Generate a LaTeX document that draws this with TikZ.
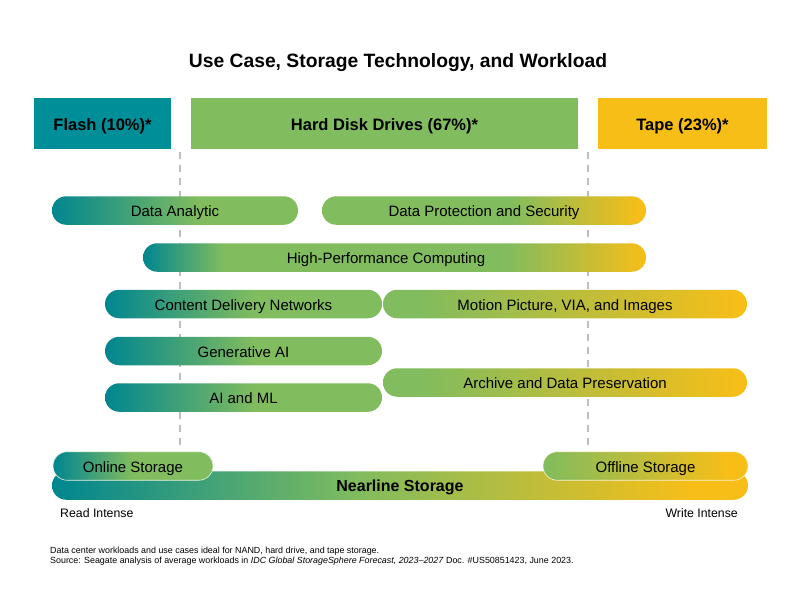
\documentclass[tikz,border=0pt]{standalone}
\usepackage{fontspec}
\setmainfont{Liberation Sans}
\definecolor{tl}{RGB}{0,134,144}
\definecolor{flashc}{RGB}{0,142,152}
\definecolor{gr}{RGB}{129,188,94}
\definecolor{yl}{RGB}{247,190,24}
\definecolor{dashc}{RGB}{190,190,190}
\pgfdeclarehorizontalshading{shDA}{100bp}{color(0bp)=(tl); color(25bp)=(tl); color(55bp)=(gr); color(100bp)=(gr)}
\pgfdeclarehorizontalshading{shLeft}{100bp}{color(0bp)=(tl); color(25bp)=(tl); color(52bp)=(gr); color(100bp)=(gr)}
\pgfdeclarehorizontalshading{shHPC}{100bp}{color(0bp)=(tl); color(25bp)=(tl); color(33bp)=(gr); color(61bp)=(gr); color(75bp)=(yl); color(100bp)=(yl)}
\pgfdeclarehorizontalshading{shDPS}{100bp}{color(0bp)=(gr); color(25bp)=(gr); color(54bp)=(gr); color(74bp)=(yl); color(100bp)=(yl)}
\pgfdeclarehorizontalshading{shRight}{100bp}{color(0bp)=(gr); color(25bp)=(gr); color(30bp)=(gr); color(74bp)=(yl); color(100bp)=(yl)}
\pgfdeclarehorizontalshading{shNear}{100bp}{color(0bp)=(tl); color(25bp)=(tl); color(47bp)=(gr); color(71bp)=(yl); color(100bp)=(yl)}
\pgfdeclarehorizontalshading{shOn}{100bp}{color(0bp)=(tl); color(25bp)=(tl); color(50bp)=(gr); color(100bp)=(gr)}
\pgfdeclarehorizontalshading{shOff}{100bp}{color(0bp)=(gr); color(25bp)=(gr); color(70bp)=(yl); color(100bp)=(yl)}
\tikzset{
  hdr/.style={rectangle, minimum height=51pt, inner sep=0pt, text=black,
    font=\bfseries\fontsize{16.5}{20}\selectfont, text height=13.4pt, text depth=0pt},
  pill/.style={rectangle, rounded corners=14.25pt, minimum height=28.5pt, inner sep=0pt,
    text=black, font=\fontsize{15}{18}\selectfont, text height=12pt, text depth=0pt},
  guide/.style={draw=dashc, line width=1.2pt, dash pattern=on 7pt off 6pt},
  small/.style={inner sep=0pt, anchor=base west, font=\fontsize{12.3}{14}\selectfont},
  foot/.style={inner sep=0pt, anchor=base west, font=\fontsize{8.9}{10}\selectfont}
}
\begin{document}
\begin{tikzpicture}[x=1pt, y=-1pt]
\useasboundingbox (0,0) rectangle (800,600);
\fill[white] (0,0) rectangle (800,600);
% title
\node[inner sep=0pt, anchor=base, font=\bfseries\fontsize{19.3}{22}\selectfont] (title) at (398,67.5) {Use Case, Storage Technology, and Workload};
% header boxes
\node[hdr, fill=flashc, minimum width=137pt] (flash) at (102.5,123.5) {Flash (10\%)*};
\node[hdr, fill=gr, minimum width=387pt] (hdd) at (384.5,123.5) {Hard Disk Drives (67\%)*};
\node[hdr, fill=yl, minimum width=169pt] (tape) at (682.5,123.5) {Tape (23\%)*};
% dashed guides
\coordinate (g1a) at (180,152); \coordinate (g1b) at (180,450);
\coordinate (g2a) at (588,152); \coordinate (g2b) at (588,450);
\draw[guide] (g1a) -- (g1b);
\draw[guide] (g2a) -- (g2b);
% pills
\node[pill, shading=shDA, minimum width=246pt] (da) at (175,210.5) {Data Analytic};
\node[pill, shading=shDPS, minimum width=324pt] (dps) at (484,210.5) {Data Protection and Security};
\node[pill, shading=shHPC, minimum width=503pt] (hpc) at (394.5,257.5) {\hspace*{-17pt}High-Performance Computing};
\node[pill, shading=shLeft, minimum width=277pt] (cdn) at (243.5,304) {Content Delivery Networks};
\node[pill, shading=shRight, minimum width=364pt] (mp) at (565,304) {Motion Picture, VIA, and Images};
\node[pill, shading=shLeft, minimum width=277pt] (gai) at (243.5,351) {Generative AI};
\node[pill, shading=shRight, minimum width=364pt] (arch) at (565,382.5) {Archive and Data Preservation};
\node[pill, shading=shLeft, minimum width=277pt] (aiml) at (243.5,397.5) {AI and ML};
% storage
\node[pill, shading=shNear, minimum width=696pt, font=\bfseries\fontsize{16}{19}\selectfont] (near) at (400,485.5) {Nearline Storage};
\node[pill, shading=shOn, minimum width=160pt, draw=white!80!gr, line width=0.6pt] (online) at (133,466) {Online Storage};
\node[pill, shading=shOff, minimum width=205pt, draw=white!80!yl, line width=0.6pt] (offline) at (645.5,466) {Offline Storage};
% axis labels
\node[small] (read) at (60,517) {Read Intense};
\node[small, anchor=base east] (write) at (738,517) {Write Intense};
% footnote
\node[foot] (f1) at (50,553) {Data center workloads and use cases ideal for NAND, hard drive, and tape storage.};
\node[foot] (f2) at (50,563) {Source: Seagate analysis of average workloads in \textit{IDC Global StorageSphere Forecast, 2023--2027} Doc. \#US50851423, June 2023.};
\end{tikzpicture}
\end{document}
